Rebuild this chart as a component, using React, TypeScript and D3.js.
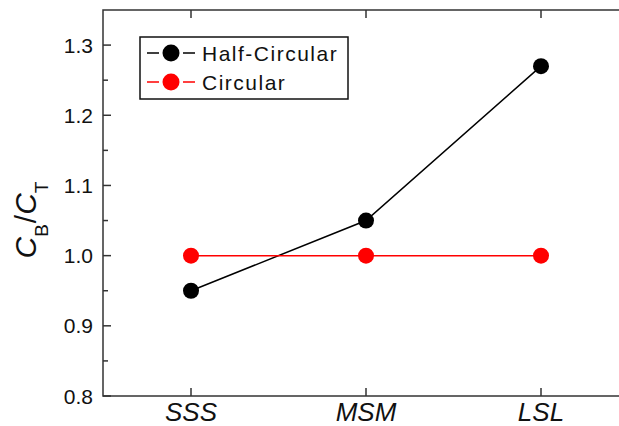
import React from "react";
import * as d3 from "d3";

const categories = ["SSS", "MSM", "LSL"];
const halfCircular = [0.95, 1.05, 1.27];
const circular = [1.0, 1.0, 1.0];
const yTicks = [0.8, 0.9, 1.0, 1.1, 1.2, 1.3];
const yMinorTicks = [0.85, 0.95, 1.05, 1.15, 1.25];
const seriesNames = ["Half-Circular", "Circular"];
const seriesColors = ["#000000", "#ff0000"];

const W = 619;
const H = 426;
const left = 103;
const top = 10;
const bottom = 396;
const right = 629;

export default function App() {
  const x = d3.scalePoint<string>().domain(categories).range([191, 541]);
  const y = d3.scaleLinear().domain([0.8, 1.35]).range([bottom, top]);
  const line = d3
    .line<number>()
    .x((_, i) => x(categories[i]) as number)
    .y((d) => y(d));
  const series = [halfCircular, circular];
  const font = "Liberation Sans, Arial, sans-serif";
  const axisColor = "#333";

  return (
    <svg
      width={W}
      height={H}
      style={{ position: "absolute", left: 0, top: 0, background: "#fff" }}
      fontFamily={font}
    >
      {/* frame */}
      <rect
        x={left}
        y={top}
        width={right - left}
        height={bottom - top}
        fill="none"
        stroke={axisColor}
        strokeWidth={1.5}
      />
      {/* y ticks */}
      {yTicks.map((t) => (
        <g key={t}>
          <line x1={left} x2={left + 8} y1={y(t)} y2={y(t)} stroke={axisColor} strokeWidth={1.5} />
          <text x={93} y={y(t)} dy="0.36em" textAnchor="end" fontSize={21} fill="#111">
            {t.toFixed(1)}
          </text>
        </g>
      ))}
      {yMinorTicks.map((t) => (
        <line key={t} x1={left} x2={left + 5} y1={y(t)} y2={y(t)} stroke={axisColor} strokeWidth={1.5} />
      ))}
      {/* x ticks */}
      {categories.map((c) => (
        <g key={c}>
          <line x1={x(c)} x2={x(c)} y1={bottom} y2={bottom - 8} stroke={axisColor} strokeWidth={1.5} />
          <line x1={x(c)} x2={x(c)} y1={top} y2={top + 8} stroke={axisColor} strokeWidth={1.5} />
          <text x={x(c)} y={421} textAnchor="middle" fontSize={26} fontStyle="italic" fill="#111">
            {c}
          </text>
        </g>
      ))}
      {/* y title */}
      <text
        transform="translate(36,220) rotate(-90)"
        textAnchor="middle"
        fontSize={30}
        fill="#111"
      >
        <tspan fontStyle="italic">C</tspan>
        <tspan fontSize={19} dy={12}>B</tspan>
        <tspan dy={-12} dx={1}>/</tspan>
        <tspan fontStyle="italic">C</tspan>
        <tspan fontSize={19} dy={12}>T</tspan>
      </text>
      {/* series */}
      {series.map((s, k) => (
        <g key={k}>
          <path d={line(s) ?? ""} fill="none" stroke={seriesColors[k]} strokeWidth={1.5} />
          {s.map((v, i) => (
            <circle key={i} cx={x(categories[i])} cy={y(v)} r={8} fill={seriesColors[k]} />
          ))}
        </g>
      ))}
      {/* legend */}
      <rect x={140} y={37} width={208} height={62} fill="#fff" stroke="#111" strokeWidth={1.5} />
      {seriesNames.map((n, k) => {
        const cy = 53 + k * 29;
        return (
          <g key={n}>
            <line x1={147} x2={159} y1={cy} y2={cy} stroke={seriesColors[k]} strokeWidth={1.5} />
            <line x1={183} x2={195} y1={cy} y2={cy} stroke={seriesColors[k]} strokeWidth={1.5} />
            <circle cx={171} cy={cy} r={8.5} fill={seriesColors[k]} />
            <text x={202} y={cy} dy="0.36em" fontSize={21} letterSpacing={1.5} fill="#111">
              {n}
            </text>
          </g>
        );
      })}
    </svg>
  );
}
